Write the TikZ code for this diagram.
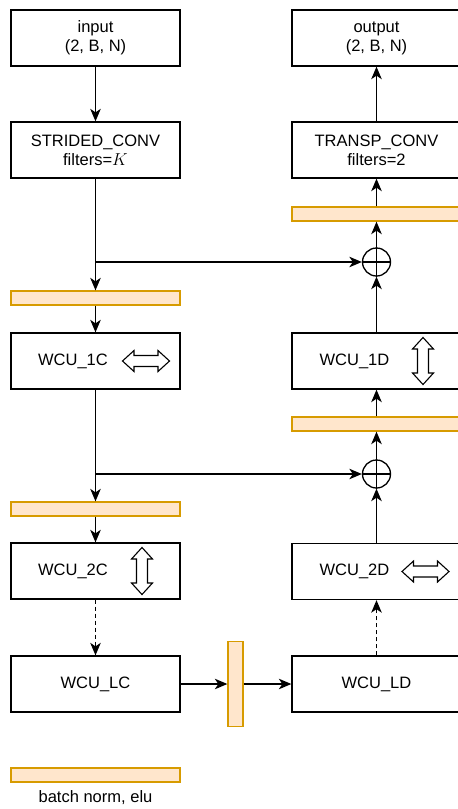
\documentclass[tikz,border=0pt]{standalone}
\usepackage{fontspec}
\setmainfont{Liberation Sans}
\usetikzlibrary{arrows.meta}
\definecolor{bnfill}{HTML}{FFE6CC}
\definecolor{bnline}{HTML}{D79B00}
\begin{document}
\begin{tikzpicture}[x=1pt,y=-1pt,
  every node/.style={font=\fontsize{16.5}{19}\selectfont},
  box/.style={draw, line width=1.3pt, minimum width=169pt, minimum height=56pt, inner sep=0pt, align=center},
  bn/.style={draw=bnline, fill=bnfill, line width=1.3pt, minimum width=169pt, minimum height=14pt, inner sep=0pt},
  vbn/.style={draw=bnline, fill=bnfill, line width=1.3pt, minimum width=15pt, minimum height=85pt, inner sep=0pt},
  plus/.style={draw, circle, line width=1.3pt, minimum size=28pt, inner sep=0pt},
  arr/.style={line width=1.3pt, -{Stealth[length=12.5pt,width=10.5pt,inset=3.5pt]}},
  dsh/.style={dash pattern=on 4pt off 3pt},
  hdbl/.pic={\draw[line width=1.1pt, fill=white] (-23.5,0) -- (-12,-10.5) -- (-12,-5.5) -- (12,-5.5) -- (12,-10.5) -- (23.5,0) -- (12,10.5) -- (12,5.5) -- (-12,5.5) -- (-12,10.5) -- cycle;}
]
\useasboundingbox (0,0) rectangle (458,809);

% left column
\node[box] (in) at (95.5,38) {input\\(2, B, N)};
\node[box] (sc) at (95.5,150) {STRIDED\_CONV\\filters=$K$};
\node[bn] (bn1) at (95.5,298) {};
\node[box] (w1c) at (95.5,361) {};
\node (w1ct) at (73,361) {WCU\_1C};
\pic at (146,361) {hdbl};
\node[bn] (bn3) at (95.5,509) {};
\node[box] (w2c) at (95.5,571) {};
\node (w2ct) at (73,571) {WCU\_2C};
\pic[rotate=90] at (142,571) {hdbl};
\node[box] (wlc) at (95.5,684) {WCU\_LC};

% bottom bar
\node[vbn] (vb) at (235.5,684) {};

% right column
\node[box] (wld) at (376.5,684) {WCU\_LD};
\node[box] (w2d) at (376.5,571.5) {};
\node (w2dt) at (354.5,571.5) {WCU\_2D};
\pic at (425.5,571.5) {hdbl};
\node[plus] (c2) at (376.5,474) {};
\draw[line width=1.3pt] (c2.north) -- (c2.south) (c2.west) -- (c2.east);
\node[bn] (bn2) at (376.5,424) {};
\node[box] (w1d) at (376.5,361) {};
\node (w1dt) at (354.5,361) {WCU\_1D};
\pic[rotate=90] at (423,361) {hdbl};
\node[plus] (c1) at (376.5,262) {};
\draw[line width=1.3pt] (c1.north) -- (c1.south) (c1.west) -- (c1.east);
\node[bn] (bn4) at (376.5,214) {};
\node[box] (tc) at (376.5,150) {TRANSP\_CONV\\filters=2};
\node[box] (out) at (376.5,38) {output\\(2, B, N)};

% legend
\node[bn] (leg) at (95.5,775) {};
\node (legt) at (95.5,798) {batch norm, elu};

% junctions
\coordinate (j1) at (95.5,262);
\coordinate (j2) at (95.5,474);

% connectors
\draw[arr] (in) -- (sc);
\draw[arr] (sc) -- (bn1);
\draw[arr] (j1) -- (c1);
\draw[arr] (bn1) -- (w1c);
\draw[arr] (w1c) -- (bn3);
\draw[arr] (j2) -- (c2);
\draw[arr] (bn3) -- (w2c);
\draw[arr,dsh] (w2c) -- (wlc);
\draw[arr] (wlc) -- (vb);
\draw[arr] (vb) -- (wld);
\draw[arr,dsh] (wld) -- (w2d);
\draw[arr] (w2d) -- (c2);
\draw[arr] (c2) -- (bn2);
\draw[arr] (bn2) -- (w1d);
\draw[arr] (w1d) -- (c1);
\draw[arr] (c1) -- (bn4);
\draw[arr] (bn4) -- (tc);
\draw[arr] (tc) -- (out);
\end{tikzpicture}
\end{document}
